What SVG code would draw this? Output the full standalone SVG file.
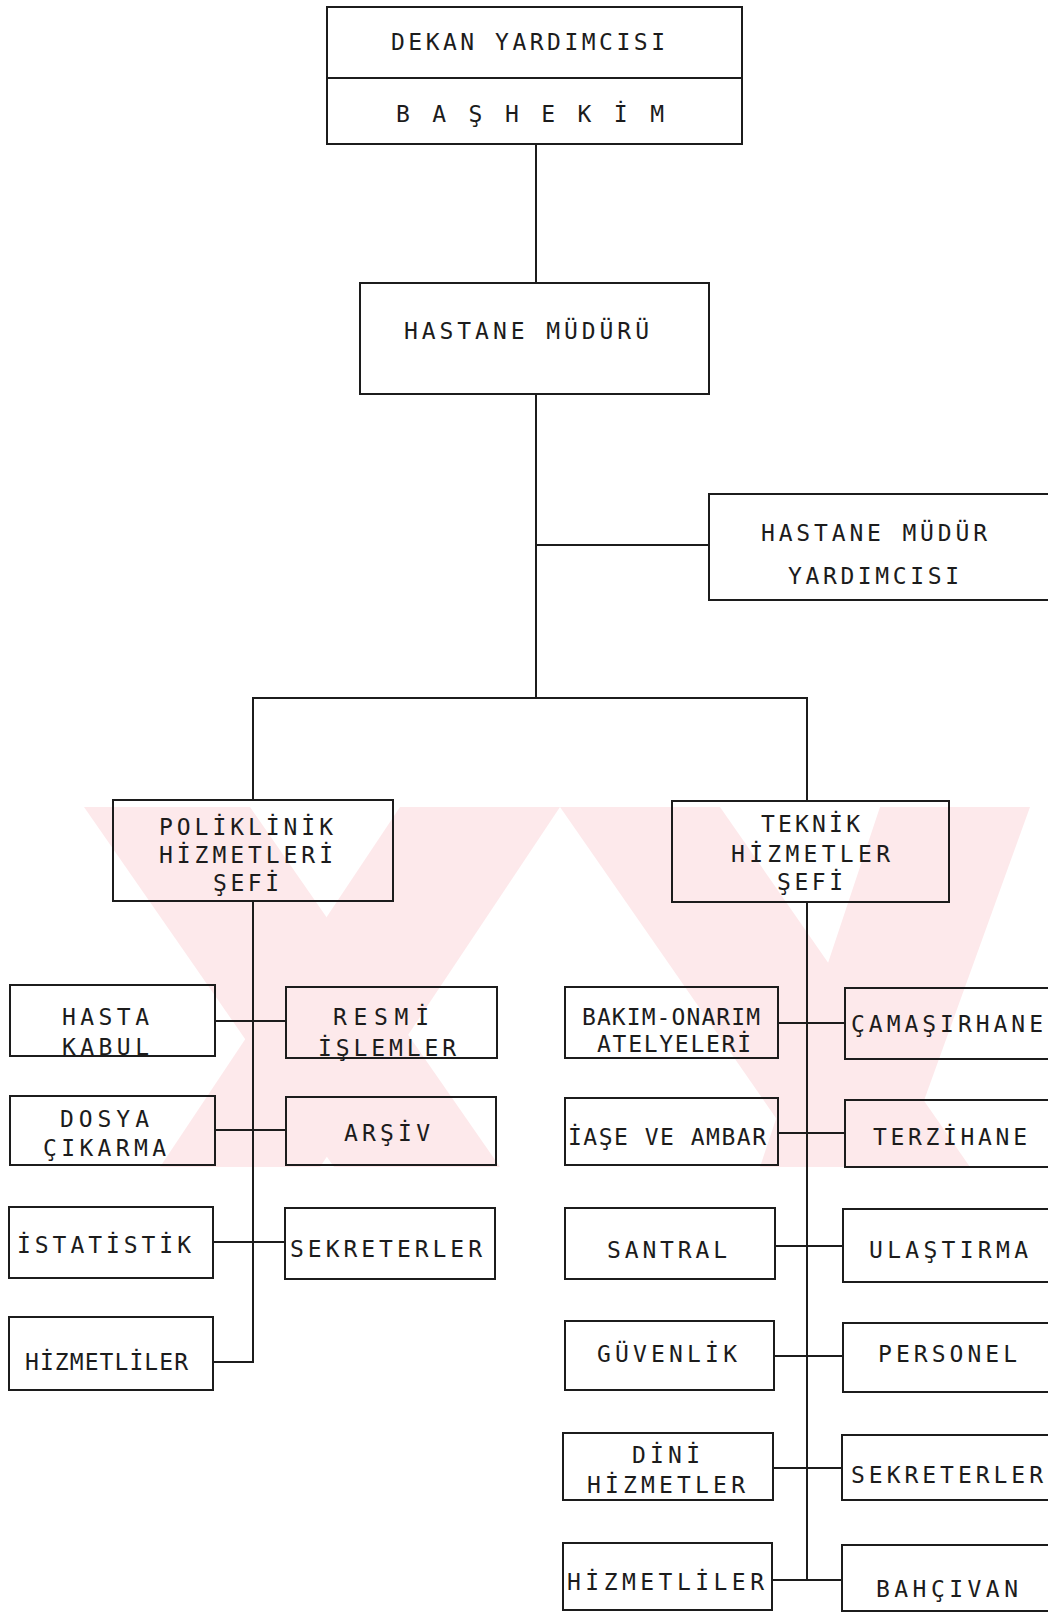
<svg xmlns="http://www.w3.org/2000/svg" width="1048" height="1613" viewBox="0 0 1048 1613">
<style>
.box{fill:none;stroke:#1c1c1c;stroke-width:2}
.ln{fill:none;stroke:#1c1c1c;stroke-width:2}
text{font-family:"DejaVu Sans Mono","Liberation Mono",monospace;font-size:23px;fill:#1c1c1c}
.wm{fill:#fde9eb}
</style>
<rect x="0" y="0" width="1048" height="1613" fill="#ffffff"/>
<g id="watermark">
<polygon class="wm" points="84,807 250,807 500,1167 334,1167"/>
<polygon class="wm" points="400,807 560,807 320,1167 160,1167"/>
<polygon class="wm" points="560,807 720,807 970,1167 810,1167"/>
<polygon class="wm" points="880,807 1030,807 900,1167 760,1167"/>
</g>
<g id="connectors">
<line class="ln" x1="536" y1="144" x2="536" y2="283"/>
<line class="ln" x1="536" y1="394" x2="536" y2="698"/>
<line class="ln" x1="536" y1="545" x2="709" y2="545"/>
<line class="ln" x1="252" y1="698" x2="808" y2="698"/>
<line class="ln" x1="253" y1="698" x2="253" y2="800"/>
<line class="ln" x1="807" y1="698" x2="807" y2="801"/>
<polyline class="ln" points="253,901 253,1362 213,1362"/>
<line class="ln" x1="215" y1="1021" x2="286" y2="1021"/>
<line class="ln" x1="215" y1="1130" x2="286" y2="1130"/>
<line class="ln" x1="213" y1="1242" x2="285" y2="1242"/>
<polyline class="ln" points="807,902 807,1580 772,1580"/>
<line class="ln" x1="807" y1="1580" x2="842" y2="1580"/>
<line class="ln" x1="778" y1="1023" x2="845" y2="1023"/>
<line class="ln" x1="778" y1="1133" x2="845" y2="1133"/>
<line class="ln" x1="775" y1="1246" x2="843" y2="1246"/>
<line class="ln" x1="774" y1="1356" x2="843" y2="1356"/>
<line class="ln" x1="773" y1="1468" x2="842" y2="1468"/>
</g>
<g id="dekan-bashekim">
<rect class="box" x="327" y="7" width="415" height="137"/>
<line class="ln" x1="327" y1="78" x2="742" y2="78"/>
<text x="391" y="50" textLength="274" lengthAdjust="spacing">DEKAN YARDIMCISI</text>
<text x="396" y="122" textLength="268" lengthAdjust="spacing">B A Ş H E K İ M</text>
</g>
<g id="hastane-muduru">
<rect class="box" x="360" y="283" width="349" height="111"/>
<text x="404" y="339" textLength="245" lengthAdjust="spacing">HASTANE MÜDÜRÜ</text>
</g>
<g id="mudur-yardimcisi">
<rect class="box" x="709" y="494" width="360" height="106"/>
<text x="761" y="541" textLength="226" lengthAdjust="spacing">HASTANE MÜDÜR</text>
<text x="788" y="584" textLength="171" lengthAdjust="spacing">YARDIMCISI</text>
</g>
<g id="poliklinik">
<rect class="box" x="113" y="800" width="280" height="101"/>
<text x="159" y="835" textLength="174" lengthAdjust="spacing">POLİKLİNİK</text>
<text x="159" y="863" textLength="174" lengthAdjust="spacing">HİZMETLERİ</text>
<text x="213" y="891" textLength="66" lengthAdjust="spacing">ŞEFİ</text>
</g>
<g id="teknik">
<rect class="box" x="672" y="801" width="277" height="101"/>
<text x="761" y="832" textLength="99" lengthAdjust="spacing">TEKNİK</text>
<text x="731" y="862" textLength="159" lengthAdjust="spacing">HİZMETLER</text>
<text x="777" y="890" textLength="66" lengthAdjust="spacing">ŞEFİ</text>
</g>
<g id="hasta-kabul">
<rect class="box" x="10" y="985" width="205" height="71"/>
<text x="62" y="1025" textLength="87" lengthAdjust="spacing">HASTA</text>
<text x="62" y="1055" textLength="87" lengthAdjust="spacing">KABUL</text>
</g>
<g id="resmi-islemler">
<rect class="box" x="286" y="987" width="211" height="71"/>
<text x="333" y="1025" textLength="96" lengthAdjust="spacing">RESMİ</text>
<text x="318" y="1056" textLength="138" lengthAdjust="spacing">İŞLEMLER</text>
</g>
<g id="dosya-cikarma">
<rect class="box" x="10" y="1096" width="205" height="69"/>
<text x="60" y="1127" textLength="89" lengthAdjust="spacing">DOSYA</text>
<text x="43" y="1156" textLength="123" lengthAdjust="spacing">ÇIKARMA</text>
</g>
<g id="arsiv">
<rect class="box" x="286" y="1097" width="210" height="68"/>
<text x="344" y="1141" textLength="86" lengthAdjust="spacing">ARŞİV</text>
</g>
<g id="istatistik">
<rect class="box" x="9" y="1207" width="204" height="71"/>
<text x="17" y="1253" textLength="174" lengthAdjust="spacing">İSTATİSTİK</text>
</g>
<g id="sekreterler-sol">
<rect class="box" x="285" y="1208" width="210" height="71"/>
<text x="290" y="1257" textLength="192" lengthAdjust="spacing">SEKRETERLER</text>
</g>
<g id="hizmetliler-sol">
<rect class="box" x="9" y="1317" width="204" height="73"/>
<text x="25" y="1370" textLength="163" lengthAdjust="spacing">HİZMETLİLER</text>
</g>
<g id="bakim-onarim">
<rect class="box" x="565" y="987" width="213" height="71"/>
<text x="582" y="1025" textLength="178" lengthAdjust="spacing">BAKIM-ONARIM</text>
<text x="597" y="1052" textLength="154" lengthAdjust="spacing">ATELYELERİ</text>
</g>
<g id="camasirhane">
<rect class="box" x="845" y="988" width="220" height="71"/>
<text x="851" y="1032" textLength="192" lengthAdjust="spacing">ÇAMAŞIRHANE</text>
</g>
<g id="iase-ambar">
<rect class="box" x="565" y="1098" width="213" height="67"/>
<text x="568" y="1145" textLength="198" lengthAdjust="spacing">İAŞE VE AMBAR</text>
</g>
<g id="terzihane">
<rect class="box" x="845" y="1100" width="220" height="67"/>
<text x="873" y="1145" textLength="154" lengthAdjust="spacing">TERZİHANE</text>
</g>
<g id="santral">
<rect class="box" x="565" y="1208" width="210" height="71"/>
<text x="607" y="1258" textLength="120" lengthAdjust="spacing">SANTRAL</text>
</g>
<g id="ulastirma">
<rect class="box" x="843" y="1209" width="222" height="73"/>
<text x="869" y="1258" textLength="159" lengthAdjust="spacing">ULAŞTIRMA</text>
</g>
<g id="guvenlik">
<rect class="box" x="565" y="1321" width="209" height="69"/>
<text x="597" y="1362" textLength="140" lengthAdjust="spacing">GÜVENLİK</text>
</g>
<g id="personel">
<rect class="box" x="843" y="1323" width="222" height="69"/>
<text x="878" y="1362" textLength="139" lengthAdjust="spacing">PERSONEL</text>
</g>
<g id="dini-hizmetler">
<rect class="box" x="563" y="1433" width="210" height="67"/>
<text x="632" y="1463" textLength="68" lengthAdjust="spacing">DİNİ</text>
<text x="587" y="1493" textLength="158" lengthAdjust="spacing">HİZMETLER</text>
</g>
<g id="sekreterler-sag">
<rect class="box" x="842" y="1435" width="223" height="65"/>
<text x="851" y="1483" textLength="192" lengthAdjust="spacing">SEKRETERLER</text>
</g>
<g id="hizmetliler-sag">
<rect class="box" x="563" y="1543" width="209" height="67"/>
<text x="567" y="1590" textLength="197" lengthAdjust="spacing">HİZMETLİLER</text>
</g>
<g id="bahcivan">
<rect class="box" x="842" y="1545" width="223" height="66"/>
<text x="876" y="1597" textLength="142" lengthAdjust="spacing">BAHÇIVAN</text>
</g>
</svg>
